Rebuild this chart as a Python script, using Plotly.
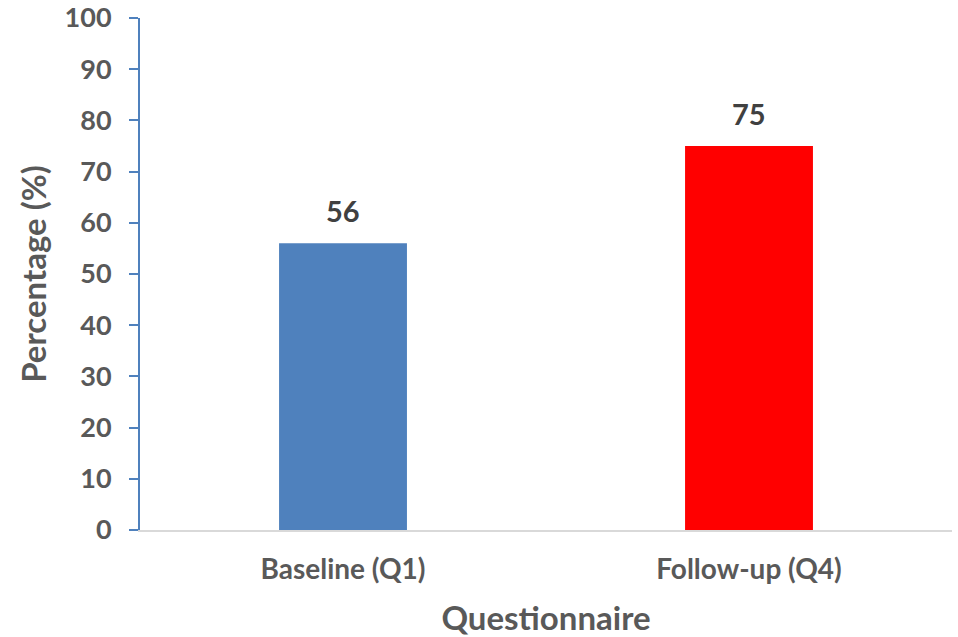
import plotly.graph_objects as go

categories = ["Baseline (Q1)", "Follow-up (Q4)"]
percentages = [56, 75]
bar_colors = ["#4F81BD", "#FF0000"]

FONT = "Lato, 'Open Sans', sans-serif"
GREY = "#595959"

fig = go.Figure(
    go.Bar(
        x=categories,
        y=percentages,
        marker=dict(color=bar_colors, line=dict(width=0)),
        width=0.315,
        hoverinfo="x+y",
    )
)

# value labels sitting above each bar
for cat, val in zip(categories, percentages):
    fig.add_annotation(
        x=cat,
        y=val,
        text=str(val),
        showarrow=False,
        yanchor="bottom",
        yshift=13,
        font=dict(family=FONT, size=29, color="#404040", weight="bold"),
    )

fig.update_layout(
    width=958,
    height=637,
    margin=dict(l=140, r=6, t=18, b=107),
    paper_bgcolor="white",
    plot_bgcolor="white",
    showlegend=False,
    font=dict(family=FONT, color=GREY),
)

fig.update_yaxes(
    range=[0, 100],
    dtick=10,
    automargin=False,
    showgrid=False,
    zeroline=False,
    showline=True,
    linecolor="#4F81BD",
    linewidth=2,
    ticks="outside",
    ticklen=9,
    tickwidth=2,
    tickcolor="#4F81BD",
    ticklabelstandoff=12,
    tickfont=dict(family=FONT, size=27, color=GREY, weight="bold"),
    title=dict(
        text="Percentage (%)",
        font=dict(family=FONT, size=33, color=GREY, weight="bold"),
        standoff=8,
    ),
)

fig.update_xaxes(
    automargin=False,
    showgrid=False,
    showline=True,
    linecolor="#D9D9D9",
    linewidth=2,
    ticks="",
    ticklabelstandoff=13,
    tickfont=dict(family=FONT, size=28, color=GREY, weight="bold"),
    title=dict(
        text="Questionnaire",
        font=dict(family=FONT, size=33, color=GREY, weight="bold"),
        standoff=27,
    ),
)

fig.write_html("out.html")
